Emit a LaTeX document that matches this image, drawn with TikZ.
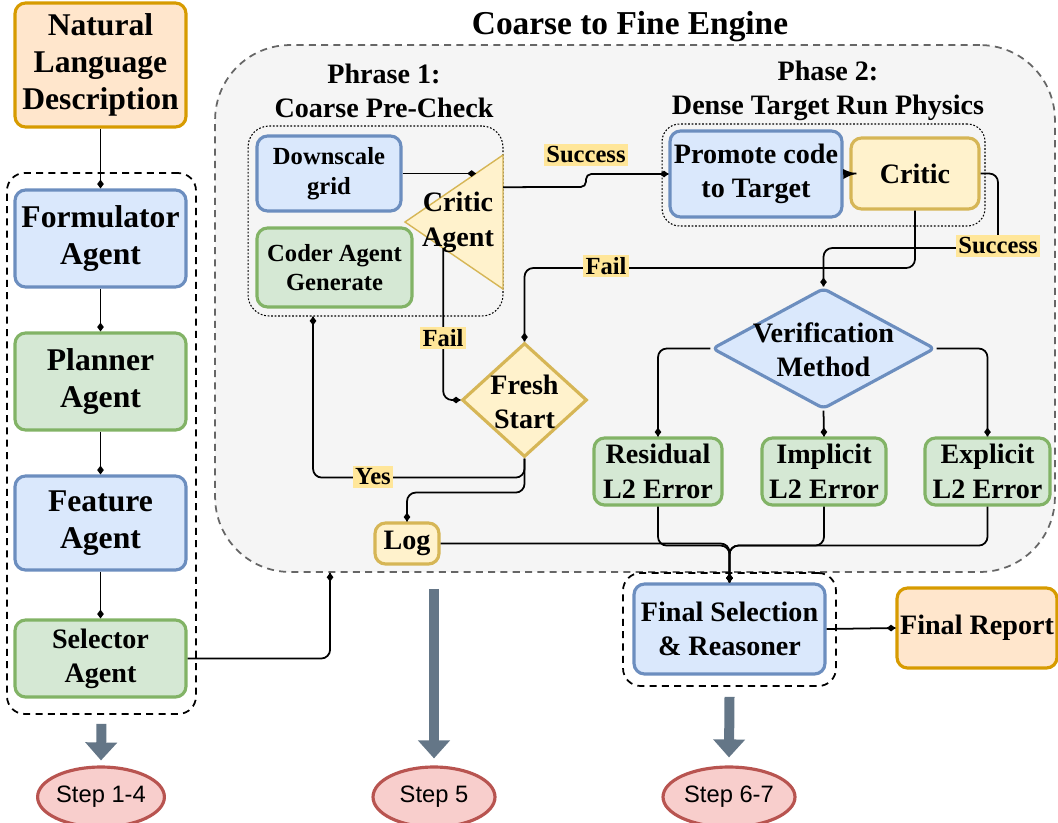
\documentclass[tikz,border=0pt]{standalone}
\usepackage{fontspec}
\setmainfont{Liberation Serif}
\setsansfont{Liberation Sans}
\usetikzlibrary{arrows.meta,calc,shapes.geometric,decorations.markings}

\definecolor{blueF}{HTML}{DAE8FC}
\definecolor{blueD}{HTML}{6C8EBF}
\definecolor{greenF}{HTML}{D5E8D4}
\definecolor{greenD}{HTML}{82B366}
\definecolor{yelF}{HTML}{FFF2CC}
\definecolor{yelD}{HTML}{D6B656}
\definecolor{orF}{HTML}{FFE6CC}
\definecolor{orD}{HTML}{D79B00}
\definecolor{redF}{HTML}{F8CECC}
\definecolor{redD}{HTML}{B85450}
\definecolor{engF}{HTML}{F5F5F5}
\definecolor{engD}{HTML}{666666}
\definecolor{lblY}{HTML}{FFE699}
\definecolor{slate}{HTML}{647687}

\begin{document}
\begin{tikzpicture}[
    x=0.02cm, y=-0.02cm,
    myarrow/.style={decoration={markings,mark=at position 1 with %
    {\arrow{Diamond[length=5pt,width=3.8pt]}}},postaction={decorate},
    line width=1pt,rounded corners=5pt},
    plainarrow/.style={decoration={markings,mark=at position 1 with %
    {\arrow[scale=1.3,>=latex]{>}}},postaction={decorate},line width=1pt},
    bigarrow/.style={draw=slate,line width=0.2cm,
    -{Triangle[length=0.36cm,width=0.62cm]}},
    box/.style={rounded corners=6pt,line width=1.8pt,align=center,inner sep=1pt},
    bluebox/.style={box,fill=blueF,draw=blueD},
    greenbox/.style={box,fill=greenF,draw=greenD},
    yelbox/.style={box,fill=yelF,draw=yelD},
    orbox/.style={box,fill=orF,draw=orD},
    bigfont/.style={font=\bfseries\fontsize{18}{21}\selectfont},
    midfont/.style={font=\bfseries\fontsize{16}{19.5}\selectfont},
    smallfont/.style={font=\bfseries\fontsize{14}{16.8}\selectfont},
    lbl/.style={fill=lblY,inner sep=1.5pt,font=\bfseries\fontsize{14}{16}\selectfont},
    stepnode/.style={ellipse,draw=redD,fill=redF,line width=1.8pt,inner sep=0pt,
    minimum width=2.44cm,minimum height=1.2cm,
    font=\sffamily\fontsize{13.5}{16}\selectfont},
    container/.style={draw,dashed,dash pattern=on 4pt off 3pt,line width=1pt,
    rounded corners=10pt,inner sep=0pt}
  ]

    \useasboundingbox (0,0) rectangle (1058,822);

    % engine and groups
    \node[container,draw=engD,fill=engF,rounded corners=1.5cm,
      minimum width=16.8cm,minimum height=10.54cm] (engine) at (635,308.5) {};
    \node[font=\bfseries\fontsize{19}{22}\selectfont] (title) at (630,27) {Coarse to Fine Engine};
    \node[midfont,align=center] (ph1title) at (384,91) {Phrase 1:\\Coarse Pre-Check};
    \node[midfont,align=center] (ph2title) at (828,91) {Phase 2:\\Dense Target Run Physics};
    \node[container,densely dotted,line width=0.6pt,rounded corners=12pt,
      minimum width=5.1cm,minimum height=3.8cm] (phase1) at (375.5,221) {};
    \node[container,densely dotted,line width=0.6pt,rounded corners=10pt,
      minimum width=6.46cm,minimum height=2.04cm] (phase2) at (823.5,175) {};
    \node[container,minimum width=3.78cm,minimum height=10.82cm] (stage14) at (101.5,443.5) {};
    \node[container,minimum width=4.26cm,minimum height=2.26cm] (finbox) at (729.5,629.5) {};

    % left column
    \node[orbox,bigfont,minimum width=3.42cm,minimum height=2.48cm] (nld) at (100.5,65) {Natural\\Language\\Description};
    \node[bluebox,bigfont,minimum width=3.42cm,minimum height=1.94cm] (form) at (100.5,238.5) {Formulator\\Agent};
    \node[greenbox,bigfont,minimum width=3.42cm,minimum height=1.94cm] (plan) at (100.5,381.5) {Planner\\Agent};
    \node[bluebox,bigfont,minimum width=3.42cm,minimum height=1.88cm] (feat) at (100.5,523) {Feature\\Agent};
    \node[greenbox,midfont,minimum width=3.42cm,minimum height=1.54cm] (sel) at (100.5,658.5) {Selector\\Agent};

    % phase 1
    \node[bluebox,smallfont,minimum width=2.88cm,minimum height=1.5cm] (down) at (329,173.5) {Downscale\\grid};
    \node[greenbox,smallfont,minimum width=3.1cm,minimum height=1.58cm] (coder) at (334.5,267.5) {Coder Agent\\Generate};
    \draw[fill=yelF,draw=yelD,line width=0.8pt]
      (405,222) coordinate (crA)
        -- (503,155) coordinate (crB)
        -- (503,289) coordinate (crC) -- cycle;
    \node[font=\bfseries\fontsize{16}{20}\selectfont,align=center] (critic1) at (458,222) {Critic\\Agent};
    \coordinate (succ1) at ($(crB)!0.24!(crC)$);
    \coordinate (fail1) at ($(crA)!0.39!(crC)$);

    % phase 2
    \node[bluebox,midfont,minimum width=3.44cm,minimum height=1.72cm] (prom) at (756,174) {Promote code\\to Target};
    \node[yelbox,midfont,minimum width=2.56cm,minimum height=1.42cm] (crit2) at (915,173.5) {Critic};

    % decisions
    \node[diamond,fill=yelF,draw=yelD,line width=1.8pt,inner sep=0pt,
      minimum width=2.5cm,minimum height=2.28cm] (fresh) at (524.5,400) {};
    \node[midfont,align=center] (freshtext) at (524.5,402) {Fresh\\Start};
    \node[diamond,fill=blueF,draw=blueD,line width=1.8pt,inner sep=0pt,rounded corners=3pt,
      minimum width=4.46cm,minimum height=2.42cm] (verif) at (823.5,348.5) {};
    \node[midfont,align=center] (veriftext) at (823.5,350) {Verification\\Method};

    \node[greenbox,midfont,minimum width=2.56cm,minimum height=1.34cm] (resid) at (658,471.5) {Residual\\L2 Error};
    \node[greenbox,midfont,minimum width=2.48cm,minimum height=1.34cm] (impl) at (824,471.5) {Implicit\\L2 Error};
    \node[greenbox,midfont,minimum width=2.5cm,minimum height=1.34cm] (expl) at (987.5,471.5) {Explicit\\L2 Error};
    \node[yelbox,midfont,minimum width=1.28cm,minimum height=0.82cm] (log) at (407,543.5) {Log};

    \node[bluebox,midfont,minimum width=3.82cm,minimum height=1.8cm] (finsel) at (729.5,629) {Final Selection\\\& Reasoner};
    \node[orbox,midfont,minimum width=3.2cm,minimum height=1.6cm] (finrep) at (977,628) {Final Report};

    \node[stepnode] (step14) at (101,797) {Step 1-4};
    \node[stepnode] (step5) at (434,797) {Step 5};
    \node[stepnode,minimum width=2.64cm] (step67) at (729,797) {Step 6-7};

    % connectors
    \draw[myarrow] (nld) -- (form);
    \draw[myarrow] (form) -- (plan);
    \draw[myarrow] (plan) -- (feat);
    \draw[myarrow] (feat) -- (sel);
    \draw[myarrow] (sel.east) -| ([xshift=-6.1cm]engine.south);

    \draw[myarrow] (down.east) -- (down.east -| 476,0);
    \draw[myarrow,rounded corners=3pt] (succ1) -- (586,187) |- (prom.west);
    \draw[plainarrow] (prom.east) -- ([xshift=4pt]crit2.west);
    \draw[myarrow] (crit2.east) -| (998,248) -| (verif.north);
    \draw[myarrow] (crit2.south) |- (fresh.north |- 0,268) -- (fresh.north);
    \draw[myarrow] (fail1) |- (fresh.west);
    \draw[myarrow] (fresh.south) -- ++(0,19) -| ([xshift=-1.25cm]phase1.south);
    \draw[myarrow] (fresh.south) -- ++(0,34) -| (log.north);

    \draw[myarrow] (verif.west) -| (resid.north);
    \draw[myarrow] (verif.south) -- (impl.north);
    \draw[myarrow] (verif.east) -| (expl.north);

    \draw[myarrow] (log.east) -| (finsel.north);
    \foreach \n in {resid,impl,expl}
      \draw[myarrow] (\n.south) -- ++(0,39) -| (finsel.north);
    \draw[myarrow] (finsel.east) -- (finrep.west);

    % labels
    \node[lbl] (lsucc1) at (586,155) {Success};
    \node[lbl] (lsucc2) at (998,246) {Success};
    \node[lbl] (lfail1) at (606,266) {Fail};
    \node[lbl] (lfail2) at (443,338) {Fail};
    \node[lbl] (lyes) at (373,477) {Yes};

    % steps
    \draw[bigarrow] ($(stage14.south)+(0,9)$) -- ($(step14.north)+(0,-5)$);
    \draw[bigarrow] ($(step5.north |- engine.south)+(0,16)$) -- ($(step5.north)+(0,-7)$);
    \draw[bigarrow] ($(finbox.south)+(0,10)$) -- ($(step67.north)+(0,-8)$);

  \end{tikzpicture}
\end{document}
